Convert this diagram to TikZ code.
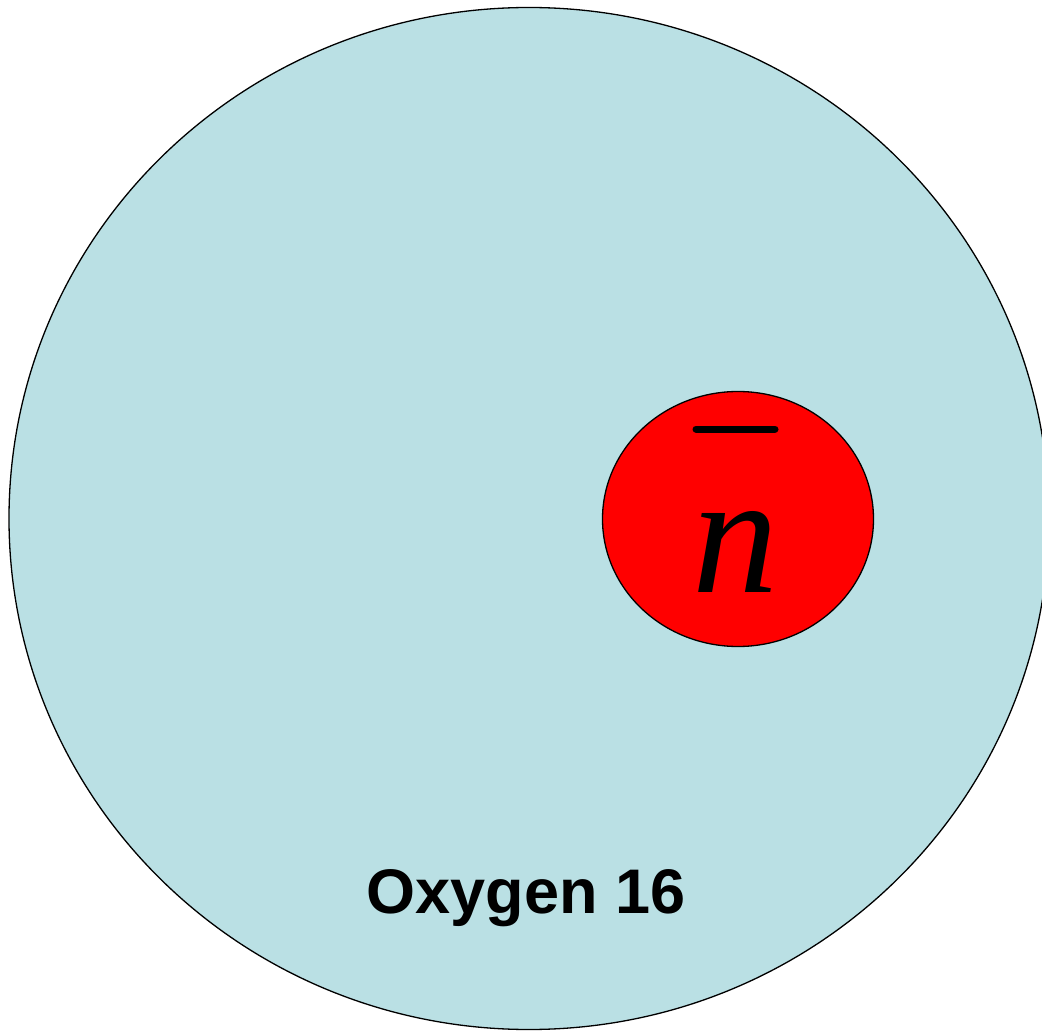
\documentclass[tikz,border=0pt]{standalone}
\usepackage{fontspec}
\setmainfont{Liberation Serif}
\setsansfont{Liberation Sans}
\usetikzlibrary{shapes.geometric}
\definecolor{nucleusblue}{RGB}{186,224,228}
\tikzset{
  blob/.style={ellipse, draw=black, inner sep=0pt, line width=1.3pt},
}
\begin{document}
\begin{tikzpicture}[x=1pt,y=-1pt]
\useasboundingbox (0,0) rectangle (1042,1032);
\node[blob, fill=nucleusblue, minimum width=1040pt, minimum height=1022pt] (oxy) at (529,518.5) {};
\node[blob, fill=red, minimum width=271pt, minimum height=255pt] (neutron) at (738,519) {};
\draw[line width=7pt, line cap=round] (696,429) -- (775,429);
\node[font=\fontsize{172}{172}\selectfont\itshape, anchor=base, inner sep=0pt] (nlabel) at (735,592) {n};
\node[font=\sffamily\bfseries\fontsize{63}{63}\selectfont, anchor=base, inner sep=0pt] (oxylabel) at (526,913) {Oxygen 16};
\end{tikzpicture}
\end{document}
